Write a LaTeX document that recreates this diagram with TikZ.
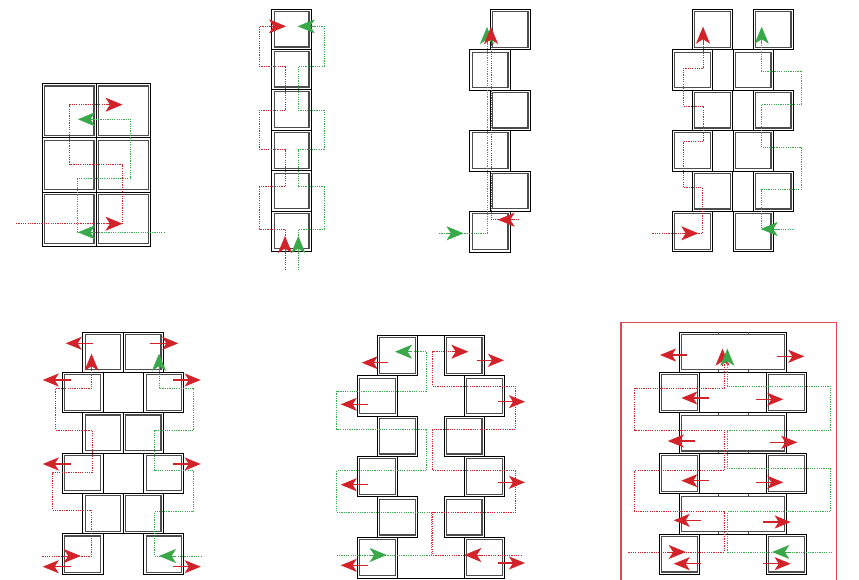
\documentclass[tikz,border=0pt]{standalone}
\usetikzlibrary{arrows.meta}
\definecolor{rd}{HTML}{D2232A}
\definecolor{gn}{HTML}{39A849}
\definecolor{fr}{HTML}{DB4A54}
\tikzset{
  outerbox/.style={draw=black,line width=1pt},
  innerbox/.style={draw=black!70,line width=1.2pt},
  rdot/.style={draw=rd,line width=0.95pt,dash pattern=on 1.2pt off 1.1pt},
  gdot/.style={draw=gn,line width=0.95pt,dash pattern=on 1.2pt off 1.1pt},
  headr/.style={draw=rd,line width=0.6pt,-{Stealth[length=17pt,width=14pt,inset=4.5pt,fill=rd]}},
  headg/.style={draw=gn,line width=0.6pt,-{Stealth[length=17pt,width=14pt,inset=4.5pt,fill=gn]}},
  shaft/.style={draw=rd,line width=1.5pt,-{Stealth[length=16pt,width=13pt,inset=4pt,fill=rd]}},
}
\newcommand\cel[4]{%
  \draw[outerbox] (#1,#2) rectangle (#3,#4);
  \draw[innerbox] ({#1+2.4},{#2+2.4}) rectangle ({#3-2.4},{#4-2.4});
}
\newcommand\hr[4]{\draw[headr] (#1,#2) -- (#3,#4);}
\newcommand\hg[4]{\draw[headg] (#1,#2) -- (#3,#4);}
\newcommand\sh[4]{\draw[shaft] (#1,#2) -- (#3,#4);}
\begin{document}
\begin{tikzpicture}[x=1pt,y=-1pt]
\useasboundingbox (0,0) rectangle (859,579);
\clip (0,0) rectangle (859,579);
% ---------- panel 1
\cel{42}{83.5}{96.3}{137.7}\cel{96.3}{83.5}{150.5}{137.7}
\cel{42}{137.7}{96.3}{192}\cel{96.3}{137.7}{150.5}{192}
\cel{42}{192}{96.3}{246}\cel{96.3}{192}{150.5}{246}
\draw[rdot] (16,223.7) -- (122.7,223.7) -- (122.7,164.7) -- (69.7,164.7) -- (69.7,104.7) -- (112,104.7);
\hr{106}{223.7}{122.5}{223.7}\hr{106}{104.7}{122.5}{104.7}
\draw[gdot] (164.7,232.3) -- (77.3,232.3) -- (77.3,178.7) -- (130.7,178.7) -- (130.7,119.3) -- (88,119.3);
\hg{94.5}{232.3}{78}{232.3}\hg{94.5}{119.3}{78}{119.3}
% ---------- panel 2
\foreach \a/\b in {9.3/49.3,49.3/89.3,89.3/130,130/170.7,170.7/211,211/251}{\cel{271.7}{\a}{311.3}{\b}}
\draw[rdot] (285,270) -- (285,229) -- (259.3,229) -- (259.3,186.7) -- (285.3,186.7) -- (285.3,149) -- (259.3,149) -- (259.3,110.3) -- (285.7,110.3) -- (285.7,66) -- (259.3,66) -- (259.3,26.3) -- (275,26.3);
\hr{285}{253}{285}{236}\hr{269}{26.3}{286}{26.3}
\draw[gdot] (298.3,270) -- (298.3,229) -- (324,229) -- (324,186.7) -- (298,186.7) -- (298,149) -- (324,149) -- (324,110.3) -- (298,110.3) -- (298,66) -- (324,66) -- (324,26.3) -- (308,26.3);
\hg{298.3}{253}{298.3}{236}\hg{314.5}{26.3}{297.7}{26.3}
% ---------- panel 3
\cel{490}{9.3}{530.3}{49.7}\cel{469.7}{49.7}{510.3}{90}\cel{490}{90}{530.3}{130.3}
\cel{469.7}{130.3}{510.3}{171}\cel{490}{171}{530.3}{211}\cel{469.7}{211}{510.3}{252}
\draw[rdot] (519.3,219.7) -- (491,219.7) -- (491,38);
\hr{514}{219.7}{497.7}{219.7}
\draw[gdot] (439,233.3) -- (487.3,233.3) -- (487.3,38);
\hg{447}{233.3}{463.5}{233.3}
\hg{487}{43.5}{487}{27}\hr{491}{43.5}{491}{27}
% ---------- panel 4
\foreach \a/\b/\c in {692.3/9.3/49.7,753/9.3/49.7,692.3/90/130.3,753/90/130.3,692.3/171/211.3,753/171/211.3,672.3/49.7/90,733/49.7/90,672.3/130.3/171,733/130.3/171,672.3/211.3/251.7,733/211.3/251.7}{\pgfmathsetmacro\dd{\a+40.4}\cel{\a}{\b}{\dd}{\c}}
\draw[rdot] (652.3,233.3) -- (702.3,233.3) -- (702.3,187.7) -- (683.3,187.7) -- (683.3,141.7) -- (703.3,141.7) -- (703.3,106) -- (683.3,106) -- (683.3,68.3) -- (703,68.3) -- (703,40);
\hr{681.5}{233.3}{698.3}{233.3}\hr{703}{43.5}{703}{26.7}
\draw[gdot] (793.3,229) -- (761.7,229) -- (761.7,189) -- (801.7,189) -- (801.7,147.7) -- (761.7,147.7) -- (761.7,104) -- (801.7,104) -- (801.7,71) -- (761.7,71) -- (761.7,40);
\hg{777.5}{229}{760.7}{229}\hg{761.7}{43.5}{761.7}{26.7}
% ---------- panel 5
\foreach \a/\b in {332/372,412.5/453,493/533.5}{\cel{82.7}{\a}{123}{\b}\cel{123}{\a}{163.3}{\b}}
\foreach \a/\b in {372/412.5,453/493,533.5/574.7}{\cel{62.3}{\a}{103}{\b}\cel{143.7}{\a}{183.7}{\b}}
\draw[rdot] (42.3,556) -- (91.7,556) -- (91.7,510) -- (52.3,510) -- (52.3,472.3) -- (92.3,472.3) -- (92.3,430) -- (55.7,430) -- (55.7,388.3) -- (91.7,388.3) -- (91.7,366);
\hr{64}{556}{80.7}{556}\hr{91.5}{370.5}{91.5}{353.7}
\draw[gdot] (201.7,556) -- (154.3,556) -- (154.3,511.7) -- (193.7,511.7) -- (193.7,470.7) -- (154.3,470.7) -- (154.3,430.3) -- (193.7,430.3) -- (193.7,388.3) -- (159,388.3) -- (159,366);
\hg{175.5}{556}{159}{556}\hg{159}{370.5}{159}{353.7}
\sh{93.3}{343.3}{65.7}{343.3}\sh{150}{343.3}{178.3}{343.3}
\foreach \y in {380,464,566.7}{\sh{70.7}{\y}{42.7}{\y}\sh{173}{\y}{200.7}{\y}}
% ---------- panel 6
\foreach \a/\b in {335/375.7,416/456.3,496.7/537.3}{\cel{377.3}{\a}{417.7}{\b}\cel{444.3}{\a}{484.3}{\b}}
\foreach \a/\b in {375.7/416,456.3/496.7,537.3/578}{\cel{357.3}{\a}{397.7}{\b}\cel{464.3}{\a}{504.7}{\b}}
\draw[outerbox] (417.7,335) -- (444.3,335);
\draw[outerbox] (397.7,578) -- (464.3,578);
\draw[rdot] (521.7,555) -- (432.7,555) -- (432.7,512.3) -- (515.7,512.3) -- (515.7,470.7) -- (432.7,470.7) -- (432.7,429) -- (515.7,429) -- (515.7,386) -- (432.7,386) -- (432.7,351.7) -- (458,351.7);
\hr{481}{555}{464.3}{555}\hr{451.5}{351.7}{468.3}{351.7}
\draw[gdot] (336.7,555) -- (431,555) -- (431,512.3) -- (336.7,512.3) -- (336.7,470.7) -- (426.7,470.7) -- (426.7,429) -- (336.7,429) -- (336.7,391.3) -- (426.7,391.3) -- (426.7,351.7) -- (405,351.7);
\hg{370}{555}{386.7}{555}\hg{411.7}{351.7}{395}{351.7}
\sh{388.3}{362.7}{361.7}{362.7}\sh{476.7}{360.3}{504}{360.3}
\foreach \l/\r in {404.3/401.7,484.7/482.3,565.3/563}{\sh{367.7}{\l}{340.7}{\l}\sh{497.7}{\r}{525}{\r}}
% ---------- panel 7
\draw[fr,line width=1.5pt] (621,585) -- (621,322.7) -- (836.7,322.7) -- (836.7,585);
\foreach \a/\b in {332/372,412.7/453.3,493.7/534}{
  \cel{679.3}{\a}{786.7}{\b}
  \foreach \tx in {718,748}{\draw[black!70,line width=0.8pt] (\tx,\a) -- ++(0,2.4) (\tx,\b) -- ++(0,-2.4);}
}
\foreach \a/\b in {372/412.7,453.3/493.7,534/574.3}{\cel{659.3}{\a}{699.7}{\b}\cel{766.3}{\a}{806.7}{\b}}
\draw[outerbox] (699.7,372) -- (766.3,372) (699.7,412.7) -- (766.3,412.7) (699.7,453.3) -- (766.3,453.3) (699.7,493.7) -- (766.3,493.7);
\draw[rdot] (628.3,552) -- (724,552) -- (724,511.7) -- (634.7,511.7) -- (634.7,470.7) -- (724,470.7) -- (724,430) -- (634.7,430) -- (634.7,388.3) -- (724,388.3) -- (724,362);
\hr{669}{552}{685.7}{552}\hr{722.5}{365.5}{722.5}{348.7}
\draw[gdot] (832,552) -- (727.7,552) -- (727.7,511.7) -- (830.7,511.7) -- (830.7,468.7) -- (727.3,468.7) -- (727.3,430) -- (830.7,430) -- (830.7,386.3) -- (727.3,386.3) -- (727.3,362);
\hg{789}{552}{772.3}{552}\hg{727.3}{365.5}{727.3}{348.7}
\sh{687.3}{355}{660}{355}\sh{776.7}{356.3}{804.3}{356.3}
\sh{708.7}{398}{681.3}{398}\sh{755.7}{399.3}{783.3}{399.3}
\sh{695}{441}{667.7}{441}\sh{769.7}{442.3}{797.3}{442.3}
\sh{708.7}{480.7}{681.3}{480.7}\sh{755.7}{482.3}{783.3}{482.3}
\sh{701}{520.3}{673.7}{520.3}\sh{763}{522}{790.7}{522}
\sh{701}{563.7}{673.7}{563.7}\sh{763}{563.7}{790.7}{563.7}
\end{tikzpicture}
\end{document}
